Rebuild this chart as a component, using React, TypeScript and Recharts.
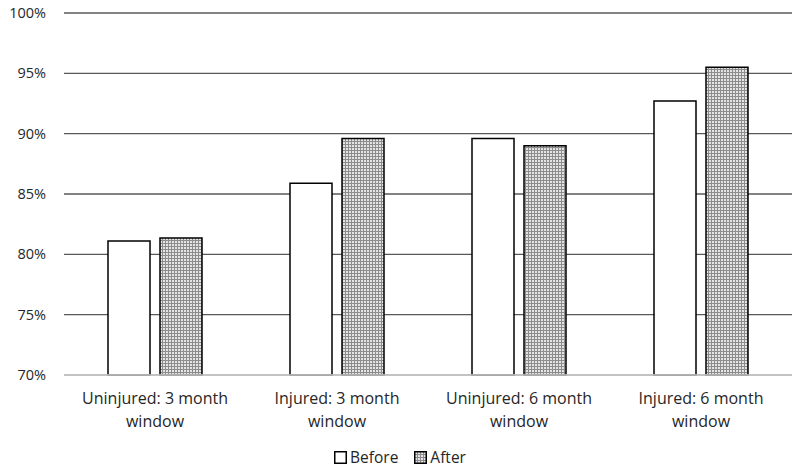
import React from "react";
import { BarChart, Bar, XAxis, YAxis, CartesianGrid, Legend } from "recharts";

const categories = [
  "Uninjured: 3 month window",
  "Injured: 3 month window",
  "Uninjured: 6 month window",
  "Injured: 6 month window",
];
const beforeValues = [81.1, 85.9, 89.6, 92.7];
const afterValues = [81.35, 89.6, 89.0, 95.5];
const yTicks = [70, 75, 80, 85, 90, 95, 100];
const seriesNames = ["Before", "After"];

const data = categories.map((c, i) => ({
  name: c,
  Before: beforeValues[i],
  After: afterValues[i],
}));

const FONT = "'Open Sans', 'Noto Sans', sans-serif";

const XTick = (props: any) => {
  const { x, y, payload } = props;
  const s: string = payload.value;
  const idx = s.lastIndexOf(" ");
  const l1 = s.slice(0, idx);
  const l2 = s.slice(idx + 1);
  return (
    <g transform={`translate(${x},${y})`}>
      <text textAnchor="middle" fontFamily={FONT} fontSize={16} fill="#262626">
        <tspan x={0} dy={21}>{l1}</tspan>
        <tspan x={0} dy={23}>{l2}</tspan>
      </text>
    </g>
  );
};

const LegendContent = () => (
  <div
    style={{
      display: "flex",
      justifyContent: "center",
      alignItems: "center",
      fontFamily: FONT,
      fontSize: 15.5,
      color: "#262626",
      gap: 16,
      marginLeft: 8,
    }}
  >
    {seriesNames.map((n, i) => (
      <div key={n} style={{ display: "flex", alignItems: "center" }}>
        <svg width={13} height={13} style={{ marginRight: 3 }}>
          <rect
            x={0.75}
            y={0.75}
            width={11.5}
            height={11.5}
            fill={i === 0 ? "#ffffff" : "url(#dotPattern)"}
            stroke="#000"
            strokeWidth={1.5}
          />
        </svg>
        <span>{n}</span>
      </div>
    ))}
  </div>
);

export default function App() {
  return (
    <div style={{ position: "absolute", left: 0, top: 0, width: 800, height: 471, background: "#fff" }}>
      <svg width={0} height={0} style={{ position: "absolute" }}>
        <defs>
          <pattern id="dotPattern" width={3} height={3} patternUnits="userSpaceOnUse">
            <rect x={0} y={0} width={3} height={3} fill="#e4e4e4" />
            <rect x={0} y={0} width={3} height={1} fill="#8c8c8c" />
            <rect x={0} y={0} width={1} height={3} fill="#8c8c8c" />
          </pattern>
        </defs>
      </svg>
      <BarChart
        width={800}
        height={471}
        data={data}
        margin={{ top: 13, right: 8, left: 0, bottom: 3 }}
        barCategoryGap={44}
        barGap={10}
      >
        <CartesianGrid vertical={false} stroke="#595959" strokeWidth={1.3} />
        <XAxis
          dataKey="name"
          height={71}
          tickLine={false}
          axisLine={{ stroke: "#d9d9d9", strokeWidth: 1.5 }}
          tick={<XTick />}
          interval={0}
        />
        <YAxis
          domain={[70, 100]}
          ticks={yTicks}
          width={64}
          tickLine={false}
          axisLine={false}
          tickSize={6}
          tickMargin={12}
          tickFormatter={(v: number) => `${v}%`}
          tick={{ fontFamily: FONT, fontSize: 14.5, fill: "#262626" }}
        />
        <Legend verticalAlign="bottom" content={<LegendContent />} />
        <Bar dataKey="Before" fill="#ffffff" stroke="#000" strokeWidth={1.5} isAnimationActive={false} />
        <Bar dataKey="After" fill="url(#dotPattern)" stroke="#000" strokeWidth={1.5} isAnimationActive={false} />
      </BarChart>
    </div>
  );
}
